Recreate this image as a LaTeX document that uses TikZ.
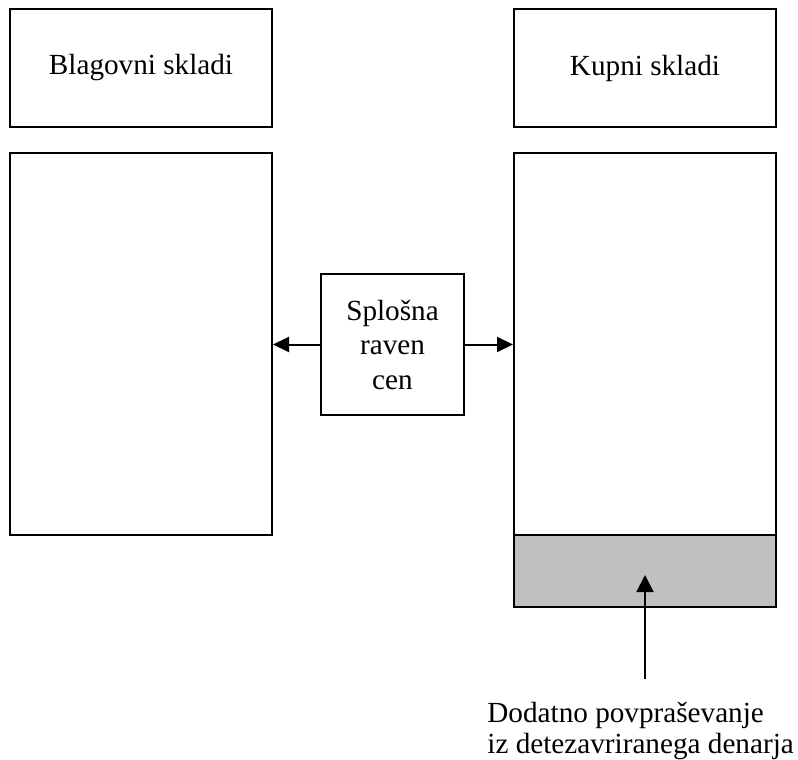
\documentclass[tikz,border=0pt]{standalone}
\usepackage{fontspec}
\setmainfont{Liberation Serif}
\usetikzlibrary{arrows.meta}
\begin{document}
\begin{tikzpicture}[x=0.5pt,y=-0.5pt,
  box/.style={draw=black,line width=1pt,inner sep=0pt,fill=white},
  lbl/.style={font=\fontsize{14.6}{17.25}\selectfont},
  arr/.style={line width=1pt,-{Triangle[length=8pt,width=7.5pt]}},
  varr/.style={line width=1pt,-{Triangle[length=8.5pt,width=8.5pt]}}]
\useasboundingbox (0,0) rectangle (798,760);
\node[box,lbl,minimum width=131pt,minimum height=59pt] (blag) at (141,68) {Blagovni skladi};
\node[box,lbl,minimum width=131pt,minimum height=59pt] (kupn) at (645,68) {Kupni skladi};
\node[box,minimum width=131pt,minimum height=191pt] (left) at (141,344) {};
\node[box,minimum width=131pt,minimum height=227pt] (right) at (645,380) {};
\node[box,fill={rgb,255:red,192;green,192;blue,192},minimum width=131pt,minimum height=36pt] (gray) at (645,571) {};
\node[box,lbl,align=center,minimum width=71.5pt,minimum height=70.5pt] (mid) at (392.5,344.5) {Splošna\\raven\\cen};
\draw[arr] (mid.west) -- (left.east |- mid.west);
\draw[arr] (mid.east) -- (right.west |- mid.east);
\coordinate (src) at (645,679);
\coordinate (tip) at (645,575);
\draw[varr] (src) -- (tip);
\node[font=\fontsize{14.6}{15.25}\selectfont,align=left,anchor=base west,inner sep=0pt] (note) at (487,753) {Dodatno povpraševanje\\iz detezavriranega denarja};
\end{tikzpicture}
\end{document}
